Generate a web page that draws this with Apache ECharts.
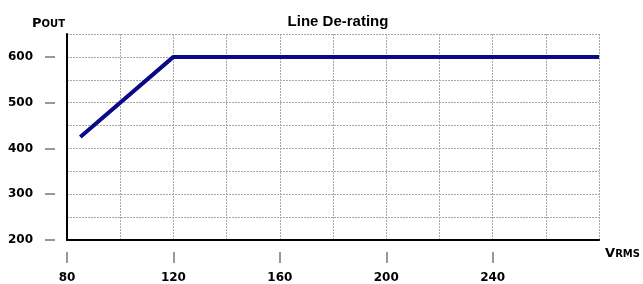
<!DOCTYPE html>
<html>
<head>
<meta charset="utf-8">
<script src="https://cdn.jsdelivr.net/npm/echarts@6/dist/echarts.min.js"></script>
<style>
    html, body { margin: 0; padding: 0; background: #fff; }
    #myChart { width: 643px; height: 284px; }
</style>
</head>
<body>
<div id="myChart"></div>
<script>
    // line de-rating curve
    var vrms = [85, 120, 280];
    var pout = [425, 600, 600];
    var xTickLabels = [80, 120, 160, 200, 240];
    var yTickLabels = [200, 300, 400, 500, 600];

    var labelFont = 'DejaVu Sans';
    var myChart = echarts.init(document.getElementById('myChart'));

    var option = {
        animation: false,
        title: {
            text: 'Line De-rating',
            left: 333,
            top: 9,
            textAlign: 'center',
            textStyle: {fontFamily: 'Liberation Sans', fontWeight: 'bold', fontSize: 15, color: '#000'}
        },
        grid: {left: 67, right: 43, top: 34, bottom: 44},
        xAxis: [
            {
                type: 'value', min: 80, max: 280, interval: 20,
                name: '{a|V}{b|RMS}',
                nameLocation: 'end',
                nameGap: 6,
                nameTextStyle: {
                    verticalAlign: 'top',
                    padding: [7, 0, 0, 0],
                    rich: {
                        a: {fontFamily: labelFont, fontWeight: 'bold', fontSize: 13, color: '#000'},
                        b: {fontFamily: labelFont, fontWeight: 'bold', fontSize: 10, color: '#000', padding: [2, 0, 0, 0]}
                    }
                },
                axisLine: {show: true, lineStyle: {color: '#000', width: 2}},
                axisTick: {show: false},
                axisLabel: {show: false},
                splitLine: {show: true, lineStyle: {color: '#a8a8a8', type: [2, 1], width: 1}}
            },
            {
                type: 'value', min: 80, max: 280, position: 'bottom', offset: 12,
                axisLine: {show: false},
                axisTick: {show: true, length: 11, customValues: xTickLabels, lineStyle: {color: '#777', width: 1.5}},
                axisLabel: {
                    show: true, margin: 20, customValues: xTickLabels,
                    fontFamily: labelFont, fontWeight: 'bold', fontSize: 12, color: '#000'
                },
                splitLine: {show: false}
            }
        ],
        yAxis: [
            {
                type: 'value', min: 200, max: 650, interval: 50,
                name: '{a|P}{b|OUT}',
                nameLocation: 'end',
                nameGap: 4,
                nameTextStyle: {
                    align: 'right',
                    padding: [0, 2, 0, 0],
                    rich: {
                        a: {fontFamily: labelFont, fontWeight: 'bold', fontSize: 13, color: '#000'},
                        b: {fontFamily: labelFont, fontWeight: 'bold', fontSize: 10, color: '#000', padding: [2, 0, 0, 0]}
                    }
                },
                axisLine: {show: true, lineStyle: {color: '#000', width: 2}},
                axisTick: {show: false},
                axisLabel: {show: false},
                splitLine: {show: true, lineStyle: {color: '#a8a8a8', type: [2, 1], width: 1}}
            },
            {
                type: 'value', min: 200, max: 650, position: 'left', offset: 12,
                axisLine: {show: false},
                axisTick: {show: true, length: 10, customValues: yTickLabels, lineStyle: {color: '#777', width: 1.5}},
                axisLabel: {
                    show: true, margin: 22, customValues: yTickLabels,
                    fontFamily: labelFont, fontWeight: 'bold', fontSize: 12, color: '#000'
                },
                splitLine: {show: false}
            }
        ],
        series: [
            {
                name: 'Pout',
                type: 'line',
                xAxisIndex: 0,
                yAxisIndex: 0,
                data: vrms.map(function (v, i) { return [v, pout[i]]; }),
                symbol: 'none',
                lineStyle: {color: '#0a0a87', width: 4}
            }
        ]
    };

    myChart.setOption(option);
</script>
</body>
</html>
